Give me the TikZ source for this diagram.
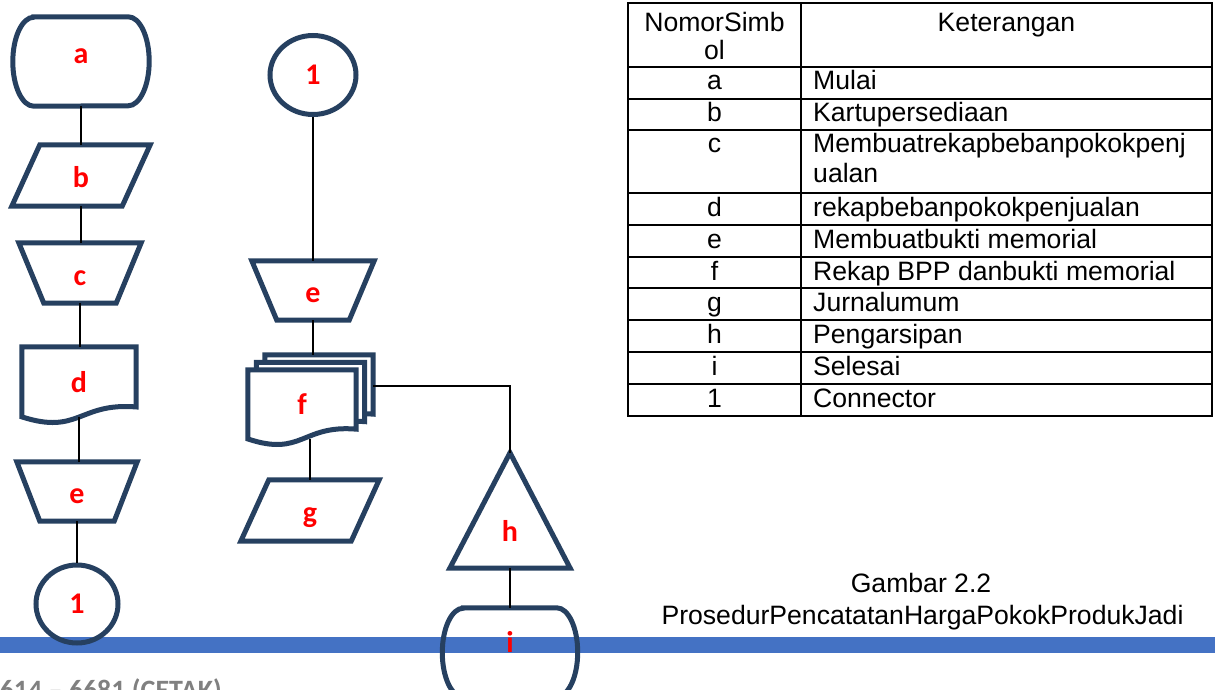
\documentclass[tikz,border=0pt]{standalone}
\usepackage{fontspec}
\setmainfont{Liberation Sans}
\newfontfamily\lblfont{Carlito}
\usetikzlibrary{calc,shapes.geometric,backgrounds}

\definecolor{navy}{RGB}{38,64,96}
\definecolor{barblue}{RGB}{68,114,196}
\definecolor{lblred}{RGB}{255,0,0}
\definecolor{footgray}{RGB}{128,128,128}

% flowchart outlines drawn around invisible, named nodes
\newcommand{\termshape}[3]{% node, corner x-radius, y-radius
  \draw[outline] ($(#1.north west)+(#2,0)$) -- ($(#1.north east)+(-#2,0)$)
    arc[start angle=90,end angle=-90,x radius=#2,y radius=#3]
    -- ($(#1.south west)+(#2,0)$)
    arc[start angle=270,end angle=90,x radius=#2,y radius=#3] -- cycle;}
\newcommand{\slantshape}[2]{% parallelogram, horizontal slant
  \draw[outline] ($(#1.north west)+(#2,0)$) -- (#1.north east)
    -- ($(#1.south east)+(-#2,0)$) -- (#1.south west) -- cycle;}
\newcommand{\manualshape}[2]{% trapezoid, bottom inset
  \draw[outline] (#1.north west) -- (#1.north east)
    -- ($(#1.south east)+(-#2,0)$) -- ($(#1.south west)+(#2,0)$) -- cycle;}
\newcommand{\docshape}[4]{% document, full height, x offset, y offset
  \draw[outline,fill=white] ($(#1.north west)+(#3,#4)$) -- ($(#1.north east)+(#3,#4)$)
    -- ($(#1.north east)+(#3,{#4-0.802*#2})$)
    .. controls ($(#1.north)+(#3,{#4-0.74*#2})$) and ($(#1.north)+(#3,{#4-1.18*#2})$)
    .. ($(#1.north west)+(#3,{#4-0.934*#2})$) -- cycle;}

\begin{document}
\begin{tikzpicture}[x=1pt,y=1pt,
  outline/.style={draw=navy,line width=5pt,line join=miter},
  sym/.style={inner sep=0pt,font=\lblfont\bfseries\fontsize{30}{30}\selectfont,text=lblred},
  low/.style={text height=24pt,text depth=0pt},
  flow/.style={draw=black,line width=1.8pt},
  cell/.style={inner sep=0pt,font=\fontsize{26.6}{30}\selectfont},
  grid/.style={draw=black,line width=1.8pt}]

\useasboundingbox (0,0) rectangle (1215,-690);

% ---- left column ----
\node[sym,minimum width=136,minimum height=89,text height=4pt,text depth=0pt] (a) at (81,-61.5) {a};
\node[sym,low,minimum width=138,minimum height=61] (b) at (81,-175.5) {b};
\node[sym,low,minimum width=122,minimum height=60] (c) at (80,-273) {c};
\node[sym,minimum width=114,minimum height=70] (d) at (79,-382) {d};
\node[sym,low,minimum width=120,minimum height=59] (e1) at (77,-491.5) {e};
\node[sym,ellipse,outline,minimum width=82,minimum height=78] (c1) at (77,-604) {1};

% ---- middle column ----
\node[sym,ellipse,outline,minimum width=86,minimum height=79] (c2) at (313,-75) {1};
\node[sym,low,minimum width=122,minimum height=59] (e2) at (313,-290.5) {e};
\node[sym,minimum width=108,minimum height=69] (f) at (302,-404.5) {f};
\node[sym,low,minimum width=138,minimum height=61] (g) at (310,-510.5) {g};
\node[sym,minimum width=120,minimum height=115,text height=62pt,text depth=0pt] (h) at (510,-510.5) {h};
\node[sym,minimum width=135,minimum height=89,text height=0pt,text depth=0pt] (i) at (510,-652.5) {i};

\coordinate (fback) at ($(f.north)+(17,15)$);
\coordinate (fside) at ($(f.north east)+(17,-16)$);

\begin{scope}[on background layer]
  \fill[barblue] (0,-637) rectangle (1215,-653);
  \termshape{a}{21}{44.5}
  \slantshape{b}{28}
  \manualshape{c}{25}
  \docshape{d}{75}{0}{0}
  \manualshape{e1}{23}
  \manualshape{e2}{25}
  \docshape{f}{74}{17}{15}
  \docshape{f}{74}{8.5}{7.5}
  \docshape{f}{74}{0}{0}
  \slantshape{g}{28}
  \draw[outline] (h.north) -- (h.south east) -- (h.south west) -- cycle;
  \termshape{i}{21}{44.5}
\end{scope}

% ---- connectors ----
\draw[flow] (a.south) -- (a.south |- b.north);
\draw[flow] (b.south) -- (b.south |- c.north);
\draw[flow] (c.south) -- (c.south |- d.north);
\draw[flow] (d.south) -- (d.south |- e1.north);
\draw[flow] (e1.south) -- (e1.south |- c1.north);
\draw[flow] (c2.south) -- (c2.south |- e2.north);
\draw[flow] (e2.south) -- (e2.south |- fback);
\draw[flow] (g.north |- f.south) -- (g.north);
\draw[flow] (fside) -| (h.north);
\draw[flow] (h.south) -- (i.north);

% ---- legend table ----
\draw[grid] (628,-3) rectangle (1212,-416);
\draw[grid] (801,-3) -- (801,-416);
\foreach \y in {67,99,130,193,225,257,288,320,352,384}
  \draw[grid] (628,-\y) -- (1212,-\y);

\node[cell,anchor=base] (hd-sym1) at (714.5,-32) {NomorSimb};
\node[cell,anchor=base] (hd-sym2) at (714.5,-60) {ol};
\node[cell,anchor=base] (hd-desc) at (1006.5,-32) {Keterangan};

\foreach \k/\desc/\b in {a/Mulai/90, b/Kartupersediaan/122,
    d/rekapbebanpokokpenjualan/216, e/Membuatbukti memorial/248,
    f/Rekap BPP danbukti memorial/280, g/Jurnalumum/311,
    h/Pengarsipan/343, i/Selesai/375, 1/Connector/407} {
  \node[cell,anchor=base] (sym-\k) at (714.5,-\b) {\k};
  \node[cell,anchor=base west] (desc-\k) at (813,-\b) {\desc};
}
\node[cell,anchor=base] (sym-c) at (714.5,-153) {c};
\node[cell,anchor=base west] (desc-c1) at (813,-153) {Membuatrekapbebanpokokpenj};
\node[cell,anchor=base west] (desc-c2) at (813,-182) {ualan};

% ---- caption and footer ----
\node[cell,anchor=base] (cap1) at (921,-592) {Gambar 2.2};
\node[cell,anchor=base] (cap2) at (922.5,-624) {ProsedurPencatatanHargaPokokProdukJadi};
\node[anchor=base east,inner sep=0pt,text=footgray,
      font=\lblfont\bfseries\fontsize{28}{28}\selectfont] (foot) at (222,-699) {614 – 6681 (CETAK)};
\end{tikzpicture}
\end{document}
